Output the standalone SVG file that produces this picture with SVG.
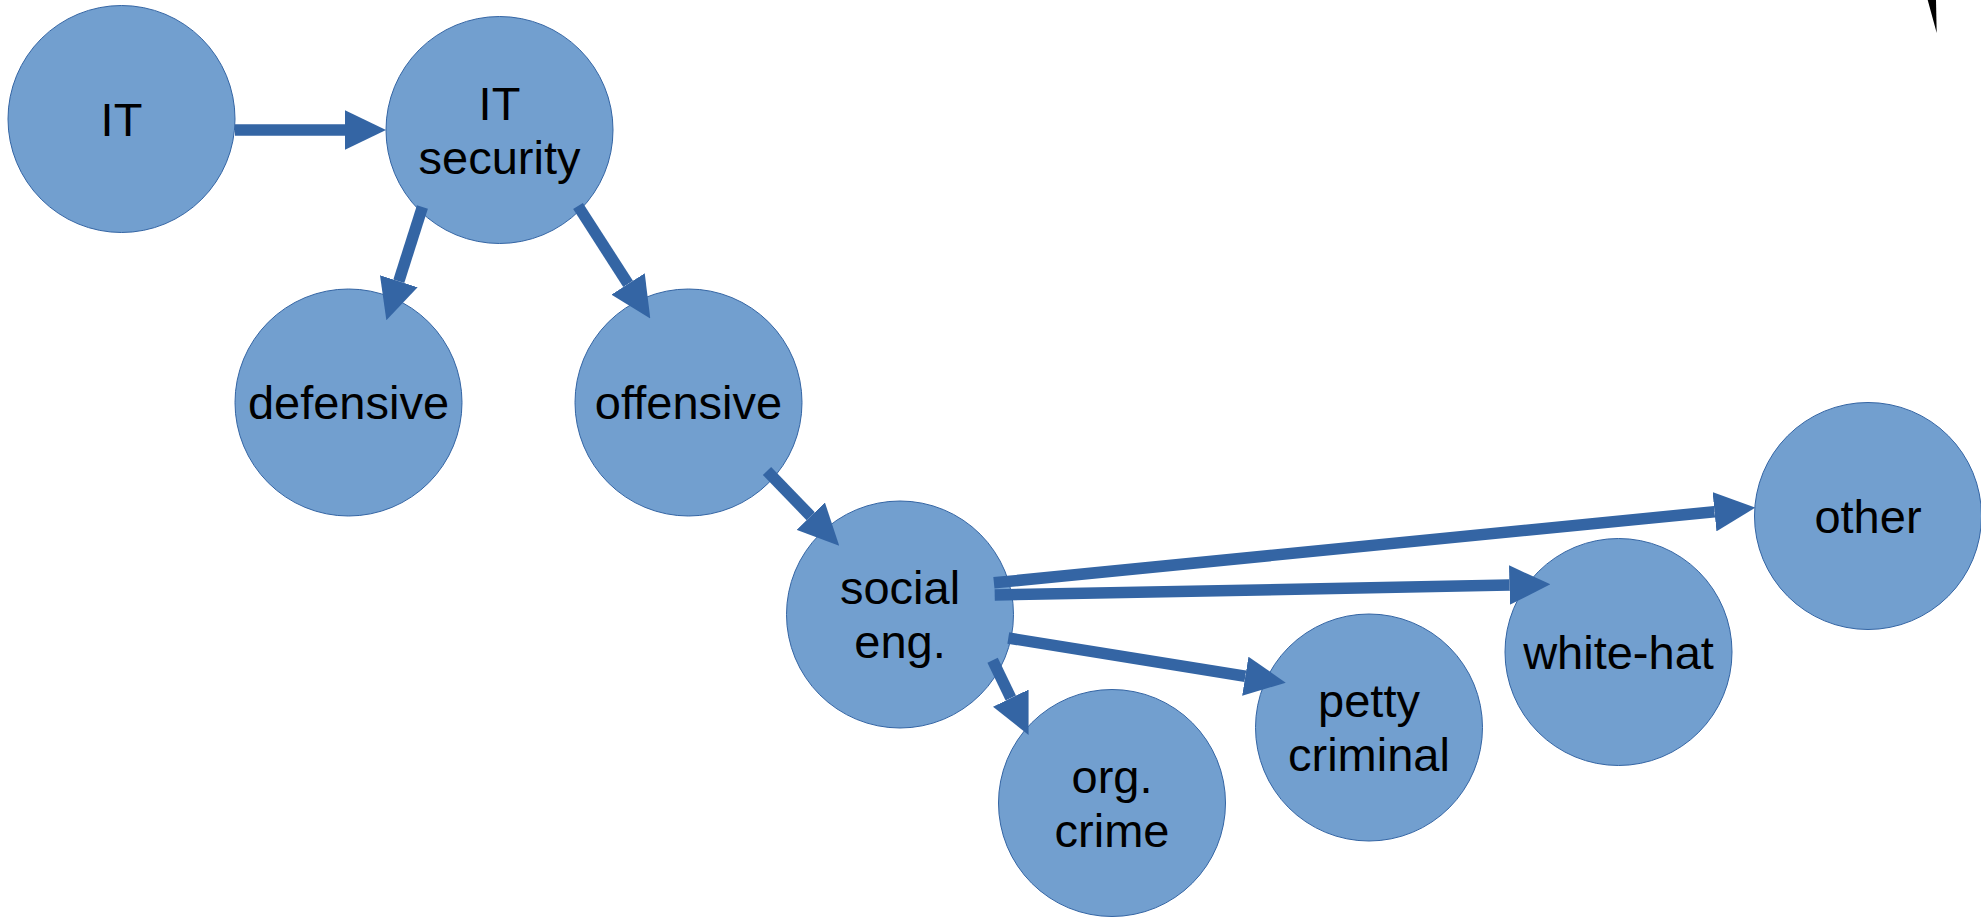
<svg xmlns="http://www.w3.org/2000/svg" width="1981" height="918" viewBox="0 0 1981 918">
  <style>
    .node circle { fill: #729fcf; stroke: #3465a4; stroke-width: 1; }
    .node text { font-family: "Liberation Sans", Arial, sans-serif; font-size: 47px; fill: #000; text-anchor: middle; }
    .edge { stroke: #3465a4; stroke-width: 11.5; fill: none; marker-end: url(#arrow); }
  </style>
  <defs>
    <marker id="arrow" markerUnits="userSpaceOnUse" markerWidth="41" markerHeight="39.5" refX="0" refY="19.75" orient="auto" viewBox="0 0 41 39.5">
      <path d="M0,0 L41,19.75 L0,39.5 z" fill="#3465a4"/>
    </marker>
  </defs>
  <rect width="1981" height="918" fill="#ffffff"/>

  <g id="node-it" class="node">
    <circle cx="121.5" cy="119" r="113.5"/>
    <text x="121.5" y="135.5">IT</text>
  </g>
  <g id="node-it-security" class="node">
    <circle cx="499.5" cy="130" r="113.5"/>
    <text x="499.5" y="119.5">IT</text>
    <text x="499.5" y="173.5">security</text>
  </g>
  <g id="node-defensive" class="node">
    <circle cx="348.5" cy="402.5" r="113.5"/>
    <text x="348.5" y="419">defensive</text>
  </g>
  <g id="node-offensive" class="node">
    <circle cx="688.5" cy="402.5" r="113.5"/>
    <text x="688.5" y="419">offensive</text>
  </g>
  <g id="node-social-eng" class="node">
    <circle cx="900" cy="614.5" r="113.5"/>
    <text x="900" y="604">social</text>
    <text x="900" y="658">eng.</text>
  </g>
  <g id="node-org-crime" class="node">
    <circle cx="1112" cy="803" r="113.5"/>
    <text x="1112" y="792.5">org.</text>
    <text x="1112" y="846.5">crime</text>
  </g>
  <g id="node-petty-criminal" class="node">
    <circle cx="1369" cy="727.5" r="113.5"/>
    <text x="1369" y="717">petty</text>
    <text x="1369" y="771">criminal</text>
  </g>
  <g id="node-white-hat" class="node">
    <circle cx="1618.5" cy="652" r="113.5"/>
    <text x="1618.5" y="668.5">white-hat</text>
  </g>
  <g id="node-other" class="node">
    <circle cx="1868" cy="516" r="113.5"/>
    <text x="1868" y="532.5">other</text>
  </g>

  <g id="connectors">
    <path class="edge" d="M235,130 L345,130"/>
    <path class="edge" d="M422.4,207 L398.8,281.2"/>
    <path class="edge" d="M578,206 L628.1,283.9"/>
    <path class="edge" d="M767,471 L810.7,516.2"/>
    <path class="edge" d="M992.6,660.3 L1010.8,698.1"/>
    <path class="edge" d="M1008.3,638 L1245.3,676.2"/>
    <path class="edge" d="M994.7,595 L1509.4,585.1"/>
    <path class="edge" d="M993.9,582.8 L1714.5,511.7"/>
  </g>

  <path id="fragment" d="M1927.7,0 L1936,0 L1936.7,33 Z" fill="#000000"/>
</svg>
